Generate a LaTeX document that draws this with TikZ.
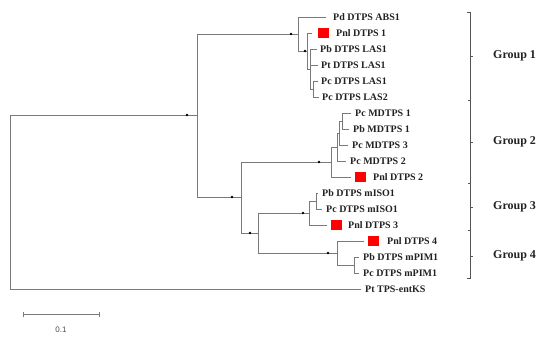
\documentclass[tikz,border=0pt]{standalone}
\usepackage{fontspec}
\setmainfont{Liberation Serif}
\setsansfont{Liberation Sans}
\definecolor{branch}{HTML}{7A7A7A}
\definecolor{bracketc}{HTML}{555555}
\definecolor{leaftext}{HTML}{222222}
\begin{document}
\begin{tikzpicture}[x=1pt,y=-1pt,
  br/.style={draw=branch,line width=0.95pt},
  leaf/.style={anchor=west,inner sep=0pt,font=\fontsize{10}{12}\selectfont\bfseries,text=leaftext},
  grp/.style={anchor=west,inner sep=0pt,font=\fontsize{12}{14}\selectfont\bfseries,text=leaftext},
  redsq/.style={fill=red,draw=none,minimum width=11pt,minimum height=10pt,inner sep=0pt},
  bs/.style={fill=black}]
\useasboundingbox (0,0) rectangle (550,340);
% internal nodes
\coordinate (R) at (10,202);
\coordinate (A) at (197,115);
\coordinate (G1) at (298,34);
\coordinate (B) at (307,51);
\coordinate (L) at (310,69);
\coordinate (L2) at (313,89);
\coordinate (X) at (241,197);
\coordinate (G2) at (331,162);
\coordinate (P) at (337,147);
\coordinate (Z) at (339,133);
\coordinate (Q) at (342,121);
\coordinate (Y) at (258,233);
\coordinate (G3) at (309,213);
\coordinate (S) at (316,201);
\coordinate (G4) at (337,253);
\coordinate (T) at (354,265);
% tips
\coordinate (t1) at (326,17);
\coordinate (t2) at (312,33);
\coordinate (t3) at (317,49);
\coordinate (t4) at (318,65);
\coordinate (t5) at (318,81);
\coordinate (t6) at (319,97);
\coordinate (t7) at (351,113);
\coordinate (t8) at (349,129);
\coordinate (t9) at (348,145);
\coordinate (t10) at (346,161);
\coordinate (t11) at (351,177);
\coordinate (t12) at (318,193);
\coordinate (t13) at (322,209);
\coordinate (t14) at (327,225);
\coordinate (t15) at (364,241);
\coordinate (t16) at (359,257);
\coordinate (t17) at (359,273);
\coordinate (t18) at (361,289);
% labels
\node[leaf] (l1) at (333,17) {Pd DTPS ABS1};
\node[redsq] (m1) at (323.5,33) {};
\node[leaf] (l2) at (336,33) {Pnl DTPS 1};
\node[leaf] (l3) at (320,49) {Pb DTPS LAS1};
\node[leaf] (l4) at (321,65) {Pt DTPS LAS1};
\node[leaf] (l5) at (321,81) {Pc DTPS LAS1};
\node[leaf] (l6) at (322,97) {Pc DTPS LAS2};
\node[leaf] (l7) at (355,113) {Pc MDTPS 1};
\node[leaf] (l8) at (353,129) {Pb MDTPS 1};
\node[leaf] (l9) at (352,145) {Pc MDTPS 3};
\node[leaf] (l10) at (350,161) {Pc MDTPS 2};
\node[redsq] (m2) at (360.5,177) {};
\node[leaf] (l11) at (373,177) {Pnl DTPS 2};
\node[leaf] (l12) at (322,193) {Pb DTPS mISO1};
\node[leaf] (l13) at (326,209) {Pc DTPS mISO1};
\node[redsq] (m3) at (336.5,225) {};
\node[leaf] (l14) at (348,225) {Pnl DTPS 3};
\node[redsq] (m4) at (373.5,241) {};
\node[leaf] (l15) at (387,241) {Pnl DTPS 4};
\node[leaf] (l16) at (363,257) {Pb DTPS mPIM1};
\node[leaf] (l17) at (363,273) {Pc DTPS mPIM1};
\node[leaf] (l18) at (365,289) {Pt TPS-entKS};
% branches
\draw[br] (R) |- (A);  \draw[br] (R) |- (t18);
\draw[br] (A) |- (G1); \draw[br] (A) |- (X);
\draw[br] (G1) |- (t1); \draw[br] (G1) |- (B);
\draw[br] (B) |- (t2); \draw[br] (B) |- (L);
\draw[br] (L) |- (t3); \draw[br] (L) |- (t4); \draw[br] (L) |- (L2);
\draw[br] (L2) |- (t5); \draw[br] (L2) |- (t6);
\draw[br] (X) |- (G2); \draw[br] (X) |- (Y);
\draw[br] (G2) |- (P); \draw[br] (G2) |- (t11);
\draw[br] (P) |- (Z); \draw[br] (P) |- (t10);
\draw[br] (Z) |- (Q); \draw[br] (Z) |- (t9);
\draw[br] (Q) |- (t7); \draw[br] (Q) |- (t8);
\draw[br] (Y) |- (G3); \draw[br] (Y) |- (G4);
\draw[br] (G3) |- (S); \draw[br] (G3) |- (t14);
\draw[br] (S) |- (t12); \draw[br] (S) |- (t13);
\draw[br] (G4) |- (t15); \draw[br] (G4) |- (T);
\draw[br] (T) |- (t16); \draw[br] (T) |- (t17);
% support dots
\foreach \p in {(187,115),(291,34),(305,51),(232,197),(250,233),(319,162),(303,213),(328,253)}
  \fill[bs] \p circle (1.3);
% group brackets
\draw[draw=bracketc,line width=1pt] (467,12) -- (470,12) -- (470,278) -- (467,278);
\foreach \yy in {100,183,230} \draw[draw=bracketc,line width=1pt] (467.5,\yy) -- (470,\yy);
\foreach \yy in {56,142,207,256} \draw[draw=bracketc,line width=1pt] (470,\yy) -- (472.5,\yy);
\node[grp] (g1) at (493,56) {Group 1};
\node[grp] (g2) at (493,142) {Group 2};
\node[grp] (g3) at (493,207) {Group 3};
\node[grp] (g4) at (493,256) {Group 4};
% scale bar
\coordinate (s1) at (23,314);
\coordinate (s2) at (99,314);
\draw[br] (s1) -- (s2);
\draw[br] ([yshift=-2.5]s1) -- ([yshift=2.5]s1);
\draw[br] ([yshift=-2.5]s2) -- ([yshift=2.5]s2);
\node[inner sep=0pt,font=\sffamily\fontsize{8}{9}\selectfont,text=black!70] (sl) at (61,330) {0.1};
\end{tikzpicture}
\end{document}
